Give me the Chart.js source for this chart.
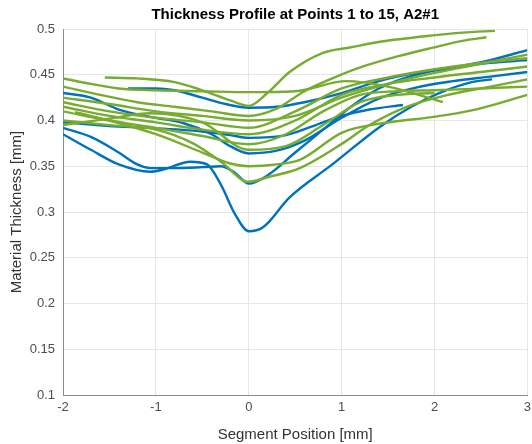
<!DOCTYPE html>
<html>
<head>
<meta charset="utf-8">
<script src="https://cdn.jsdelivr.net/npm/chart.js@4/dist/chart.umd.min.js"></script>
<style>
  html, body { margin: 0; padding: 0; background: #fff; }
  #wrap { width: 532px; height: 444px; }
</style>
</head>
<body>
<div id="wrap"><canvas id="myChart" width="532" height="444"></canvas></div>
<script>
// axis ticks
var xTicks = [-2, -1, 0, 1, 2, 3];
var yTicks = [0.1, 0.15, 0.2, 0.25, 0.3, 0.35, 0.4, 0.45, 0.5];

// blue profiles (positions in mm, thickness in mm)
var b1x = [-1.3, -1.0, -0.8, -0.5, -0.25, 0, 0.3, 0.6, 1.0, 1.4, 1.8, 2.2, 2.6, 3.0];
var b1y = [0.435, 0.435, 0.433, 0.425, 0.418, 0.414, 0.415, 0.42, 0.43, 0.443, 0.452, 0.458, 0.463, 0.466];

var b2x = [-2, -1.7, -1.4, -1.06, -0.7, -0.4, -0.2, 0, 0.3, 0.6, 1.0, 1.4, 1.8, 2.2, 2.6, 3.0];
var b2y = [0.43, 0.425, 0.412, 0.404, 0.397, 0.385, 0.372, 0.364, 0.367, 0.378, 0.403, 0.424, 0.436, 0.443, 0.448, 0.453];

var b3x = [-2, -1.5, -1.06, -0.5, -0.2, 0, 0.4, 0.8, 1.0, 1.3, 1.66];
var b3y = [0.398, 0.394, 0.392, 0.388, 0.384, 0.381, 0.384, 0.398, 0.405, 0.412, 0.417];

var b4x = [-2, -1.7, -1.4, -1.2, -1.06, -0.8, -0.5, -0.3, -0.15, 0, 0.2, 0.5, 0.8, 1.1, 1.4, 1.8, 2.2, 2.6, 3.0];
var b4y = [0.392, 0.382, 0.365, 0.352, 0.348, 0.348, 0.349, 0.35, 0.343, 0.331, 0.34, 0.365, 0.39, 0.415, 0.435, 0.45, 0.458, 0.466, 0.477];

var b5x = [-2, -1.7, -1.4, -1.06, -0.9, -0.63, -0.45, -0.3, -0.15, 0, 0.15, 0.44, 0.9, 1.41, 1.75, 2.05, 2.4, 2.62];
var b5y = [0.385, 0.368, 0.352, 0.344, 0.347, 0.355, 0.352, 0.33, 0.298, 0.279, 0.283, 0.316, 0.352, 0.393, 0.415, 0.43, 0.442, 0.445];

// green profiles
var g1x = [-2, -1.7, -1.4, -1.0, -0.5, 0, 0.5, 1.05, 1.5, 2.09];
var g1y = [0.446, 0.44, 0.435, 0.433, 0.432, 0.431, 0.432, 0.443, 0.437, 0.42];

var g2x = [-1.55, -1.2, -0.8, -0.5, -0.2, 0, 0.2, 0.44, 0.8, 1.1, 1.41, 1.98, 2.3, 2.65];
var g2y = [0.447, 0.446, 0.442, 0.433, 0.422, 0.416, 0.43, 0.453, 0.474, 0.48, 0.486, 0.493, 0.496, 0.498];

var g3x = [-2, -1.6, -1.2, -0.8, -0.4, 0, 0.3, 0.6, 0.9, 1.2, 1.6, 2.0, 2.3, 2.56];
var g3y = [0.437, 0.428, 0.42, 0.415, 0.41, 0.405, 0.413, 0.432, 0.446, 0.458, 0.47, 0.48, 0.487, 0.491];

var g4x = [-2, -1.5, -1.0, -0.5, 0, 0.5, 1.0, 1.5, 2.0, 2.5, 3.0];
var g4y = [0.425, 0.418, 0.41, 0.405, 0.4, 0.405, 0.425, 0.44, 0.452, 0.462, 0.472];

var g5x = [-2, -1.5, -1.0, -0.5, 0, 0.5, 1.0, 1.5, 2.0, 2.5, 3.0];
var g5y = [0.42, 0.41, 0.403, 0.398, 0.392, 0.41, 0.435, 0.447, 0.456, 0.463, 0.468];

var g6x = [-2, -1.5, -1.0, -0.5, 0, 0.5, 1.0, 1.5, 2.0, 2.5, 3.0];
var g6y = [0.415, 0.405, 0.398, 0.39, 0.385, 0.4, 0.428, 0.44, 0.447, 0.453, 0.459];

var g7x = [-2, -1.5, -1.0, -0.5, 0, 0.4, 0.8, 1.2, 1.6, 2.0, 2.5, 3.0];
var g7y = [0.41, 0.4, 0.392, 0.383, 0.374, 0.385, 0.41, 0.428, 0.432, 0.433, 0.435, 0.437];

var g8x = [-1.87, -1.5, -1.0, -0.5, -0.2, 0, 0.3, 0.55, 1.01, 1.44, 1.99, 2.4, 3.0];
var g8y = [0.409, 0.4, 0.385, 0.365, 0.353, 0.35, 0.352, 0.357, 0.387, 0.397, 0.404, 0.411, 0.428];

var g9x = [-2, -1.5, -1.0, -0.6, -0.3, 0, 0.2, 0.55, 1.01, 1.3, 1.7, 2.1, 2.6, 3.0];
var g9y = [0.4, 0.395, 0.39, 0.375, 0.355, 0.333, 0.338, 0.348, 0.375, 0.395, 0.415, 0.427, 0.437, 0.445];

var g10x = [-2, -1.5, -1.06, -0.5, 0, 0.4, 0.8, 1.2, 1.6, 2.0];
var g10y = [0.395, 0.402, 0.408, 0.398, 0.368, 0.372, 0.395, 0.42, 0.428, 0.43];

var blueColor = '#0072BD';
var greenColor = '#77AC30';
var titleText = 'Thickness Profile at Points 1 to 15, A2#1';

var series = [
  [g1x, g1y, greenColor], [g2x, g2y, greenColor], [g3x, g3y, greenColor],
  [g4x, g4y, greenColor], [g5x, g5y, greenColor], [g6x, g6y, greenColor],
  [g7x, g7y, greenColor], [g8x, g8y, greenColor], [g9x, g9y, greenColor],
  [g10x, g10y, greenColor],
  [b1x, b1y, blueColor], [b2x, b2y, blueColor], [b3x, b3y, blueColor],
  [b4x, b4y, blueColor], [b5x, b5y, blueColor]
];

function toPoints(xs, ys) {
  var pts = [];
  for (var i = 0; i < xs.length; i++) {
    pts.push({ x: xs[i], y: ys[i] });
  }
  return pts;
}

var datasets = series.map(function (s) {
  return {
    data: toPoints(s[0], s[1]),
    borderColor: s[2],
    backgroundColor: s[2],
    borderWidth: 2.4,
    pointRadius: 0,
    fill: false,
    cubicInterpolationMode: 'monotone'
  };
});

var fontFamily = '"Liberation Sans", Arial, Helvetica, sans-serif';

// matlab centres the title over the axes box, not the whole figure
const axesTitle = {
  id: 'axesTitle',
  afterDraw: function (chart) {
    var ctx = chart.ctx;
    var area = chart.chartArea;
    ctx.save();
    ctx.font = 'bold 15px ' + fontFamily;
    ctx.fillStyle = '#000';
    ctx.textAlign = 'center';
    ctx.textBaseline = 'middle';
    ctx.fillText(titleText, (area.left + area.right) / 2, 15);
    ctx.restore();
  }
};

const config = {
  type: 'line',
  data: { datasets: datasets },
  options: {
    responsive: false,
    animation: false,
    layout: { padding: { left: 0, right: 1, top: 29, bottom: 0 } },
    plugins: {
      legend: { display: false },
      tooltip: { enabled: false },
      title: { display: false }
    },
    scales: {
      x: {
        type: 'linear',
        min: -2,
        max: 3,
        afterBuildTicks: function (scale) {
          scale.ticks = xTicks.map(function (v) { return { value: v }; });
        },
        afterFit: function (scale) { scale.height = 49; },
        ticks: {
          color: '#4d4d4d',
          font: { family: fontFamily, size: 13 },
          padding: 1,
          maxRotation: 0
        },
        grid: { color: '#e6e6e6', tickLength: 4, tickColor: '#ffffff' },
        border: { color: '#8c8c8c', width: 1 },
        title: {
          display: true,
          text: 'Segment Position [mm]',
          color: '#333333',
          font: { family: fontFamily, size: 15 },
          padding: { top: 0, bottom: 0 }
        }
      },
      y: {
        min: 0.1,
        max: 0.5,
        afterBuildTicks: function (scale) {
          scale.ticks = yTicks.map(function (v) { return { value: v }; });
        },
        afterFit: function (scale) { scale.width = 63; },
        ticks: {
          color: '#4d4d4d',
          font: { family: fontFamily, size: 13 },
          padding: 4,
          callback: function (v) { return String(Math.round(v * 100) / 100); }
        },
        grid: { color: '#e6e6e6', tickLength: 4, tickColor: '#ffffff' },
        border: { color: '#8c8c8c', width: 1 },
        title: {
          display: true,
          text: 'Material Thickness [mm]',
          color: '#333333',
          font: { family: fontFamily, size: 15 },
          padding: { top: 8, bottom: 0 }
        }
      }
    }
  },
  plugins: [axesTitle]
};

const myChart = new Chart(document.getElementById('myChart'), config);
</script>
</body>
</html>
